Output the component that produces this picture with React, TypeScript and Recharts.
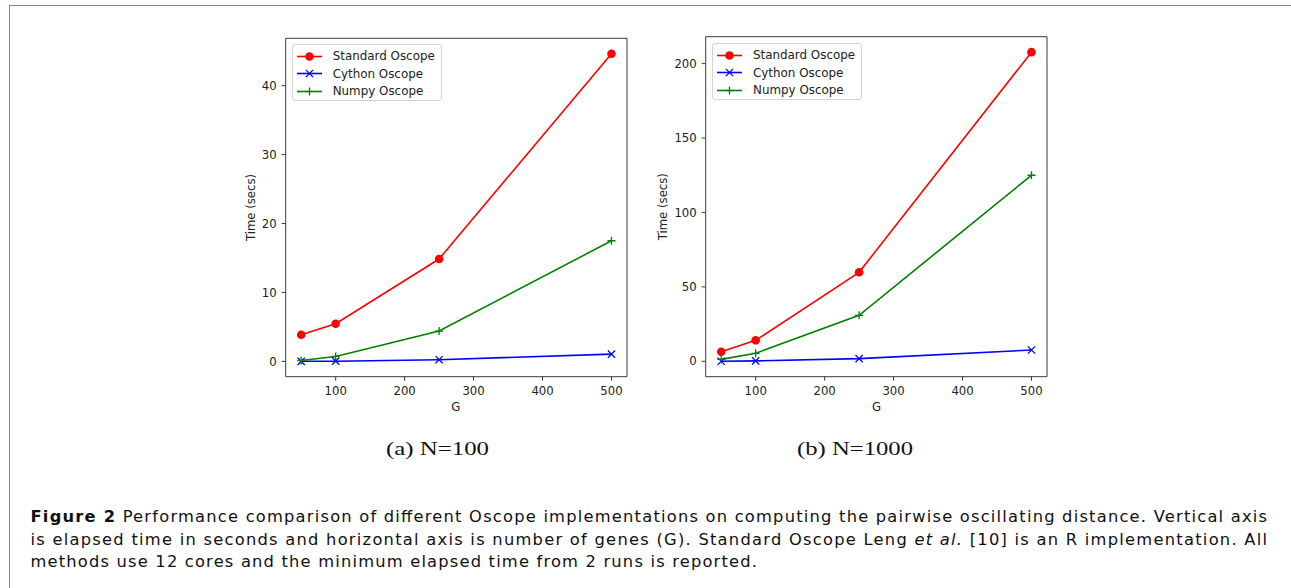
import React from 'react'
import { LineChart, Line, XAxis, YAxis, ReferenceArea } from 'recharts'

// number of genes
const genes = [50, 100, 250, 500]

// N = 100
const standardN100 = [3.86, 5.46, 14.85, 44.64]
const cythonN100 = [0.01, 0.03, 0.24, 1.06]
const numpyN100 = [0.12, 0.72, 4.4, 17.5]

// N = 1000
const standardN1000 = [6.45, 14.1, 59.8, 207.7]
const cythonN1000 = [0.05, 0.3, 1.8, 7.6]
const numpyN1000 = [1.3, 5.4, 30.9, 125.0]

const xTicks = [100, 200, 300, 400, 500]
const yTicksN100 = [0, 10, 20, 30, 40]
const yTicksN1000 = [0, 50, 100, 150, 200]

const seriesNames = ['Standard Oscope', 'Cython Oscope', 'Numpy Oscope']
const seriesColors = ['#ff0000', '#0000ff', '#008000']

const tickFont = { fontFamily: 'DejaVu Sans', fontSize: 11.7, fill: '#222' }
const frameColor = '#3a3a3a'

// matplotlib style 5% padding around the data
const pad = (vals: number[]) => {
  const lo = Math.min(...vals)
  const hi = Math.max(...vals)
  const m = (hi - lo) * 0.05
  return [lo - m, hi + m]
}

const Marker = ({ kind, cx, cy, color }: { kind: number; cx: number; cy: number; color: string }) => {
  if (kind === 0) return <circle cx={cx} cy={cy} r={4.3} fill={color} />
  if (kind === 1) {
    const s = 3.6
    return (
      <g>
        <line x1={cx - s} y1={cy - s} x2={cx + s} y2={cy + s} stroke={color} strokeWidth={1.3} />
        <line x1={cx - s} y1={cy + s} x2={cx + s} y2={cy - s} stroke={color} strokeWidth={1.3} />
      </g>
    )
  }
  const s = 4
  return (
    <g>
      <line x1={cx - s} y1={cy} x2={cx + s} y2={cy} stroke={color} strokeWidth={1.3} />
      <line x1={cx} y1={cy - s} x2={cx} y2={cy + s} stroke={color} strokeWidth={1.3} />
    </g>
  )
}

const dotFor = (kind: number) => (props: any) => (
  <g key={`d-${kind}-${props.index}`}>
    <Marker kind={kind} cx={props.cx} cy={props.cy} color={seriesColors[kind]} />
  </g>
)

interface PlotProps {
  left: number
  top: number
  marginTop: number
  standard: number[]
  cython: number[]
  numpy: number[]
  yTicks: number[]
  legend: { x: number; y: number; w: number; h: number }
}

const TimingPlot: React.FC<PlotProps> = ({ left, top, marginTop, standard, cython, numpy, yTicks, legend }) => {
  const rows = genes.map((g, i) => ({ g, standard: standard[i], cython: cython[i], numpy: numpy[i] }))
  const [x0, x1] = pad(genes)
  const [y0, y1] = pad([...standard, ...cython, ...numpy])
  const keys = ['standard', 'cython', 'numpy']
  return (
    <>
      <div style={{ position: 'absolute', left, top }}>
        <LineChart width={420} height={400} data={rows} margin={{ top: marginTop, right: 13, left: 0, bottom: 13.3 }}>
          <XAxis
            dataKey="g"
            type="number"
            domain={[x0, x1]}
            ticks={xTicks}
            allowDataOverflow
            axisLine={false}
            tickLine={{ stroke: frameColor }}
            tickSize={4}
            tickMargin={5.8}
            height={30}
            tick={tickFont}
          />
          <YAxis
            type="number"
            domain={[y0, y1]}
            ticks={yTicks}
            allowDataOverflow
            axisLine={false}
            tickLine={{ stroke: frameColor }}
            tickSize={4}
            tickMargin={5}
            width={65.7}
            tick={tickFont}
          />
          {keys.map((k, i) => (
            <Line
              key={k}
              dataKey={k}
              stroke={seriesColors[i]}
              strokeWidth={1.6}
              dot={dotFor(i)}
              activeDot={false}
              isAnimationActive={false}
            />
          ))}
          <ReferenceArea x1={x0} x2={x1} y1={y0} y2={y1} fill="none" stroke={frameColor} strokeWidth={1} ifOverflow="visible" />
        </LineChart>
      </div>
      <div
        style={{
          position: 'absolute',
          left: legend.x,
          top: legend.y,
          width: legend.w,
          height: legend.h,
          border: '1px solid #d4d4d4',
          borderRadius: 3,
          background: 'rgba(255,255,255,0.8)',
          boxSizing: 'border-box',
        }}
      >
        {seriesNames.map((name, i) => (
          <div key={name} style={{ position: 'absolute', left: 4, top: 2.5 + i * 17.6, height: 17, display: 'flex', alignItems: 'center' }}>
            <svg width={26} height={17}>
              <line x1={0} y1={8.5} x2={25} y2={8.5} stroke={seriesColors[i]} strokeWidth={1.6} />
              <Marker kind={i} cx={12.5} cy={8.5} color={seriesColors[i]} />
            </svg>
            <span style={{ marginLeft: 10, fontFamily: 'DejaVu Sans', fontSize: 11.9, color: '#222', whiteSpace: 'nowrap' }}>{name}</span>
          </div>
        ))}
      </div>
    </>
  )
}

export default function App() {
  const label = { fontFamily: 'DejaVu Sans', fontSize: 11.7, fill: '#222' }
  const cap = { fontFamily: 'DejaVu Sans', fontSize: 16.3, fill: '#111' }
  return (
    <div style={{ position: 'absolute', left: 0, top: 0, width: 1291, height: 588, background: '#fff', overflow: 'hidden' }}>
      <div
        style={{
          position: 'absolute',
          left: 9,
          top: 5,
          width: 1300,
          height: 600,
          borderTop: '1.5px solid #6f88ab',
          borderLeft: '1.5px solid #6f88ab',
        }}
      />
      <TimingPlot
        left={220}
        top={20}
        marginTop={18.3}
        standard={standardN100}
        cython={cythonN100}
        numpy={numpyN100}
        yTicks={yTicksN100}
        legend={{ x: 291.7, y: 44.3, w: 150, h: 57 }}
      />
      <TimingPlot
        left={640}
        top={20}
        marginTop={16.7}
        standard={standardN1000}
        cython={cythonN1000}
        numpy={numpyN1000}
        yTicks={yTicksN1000}
        legend={{ x: 712, y: 43.3, w: 150, h: 57 }}
      />
      <svg width={1291} height={588} style={{ position: 'absolute', left: 0, top: 0, pointerEvents: 'none' }}>
        <text {...label} x={0} y={0} textAnchor="middle" dominantBaseline="central" transform="translate(250.5 207.5) rotate(-90)">
          Time (secs)
        </text>
        <text {...label} x={0} y={0} textAnchor="middle" dominantBaseline="central" transform="translate(663 206.7) rotate(-90)">
          Time (secs)
        </text>
        <text {...label} x={455.9} y={411} textAnchor="middle">G</text>
        <text {...label} x={876.5} y={411} textAnchor="middle">G</text>

        <text x={386} y={455} fontFamily="Liberation Serif" fontSize={18} fill="#111" textLength={103} lengthAdjust="spacingAndGlyphs">
          (a) N=100
        </text>
        <text x={797} y={455} fontFamily="Liberation Serif" fontSize={18} fill="#111" textLength={116} lengthAdjust="spacingAndGlyphs">
          (b) N=1000
        </text>

        <text {...cap} x={30.5} y={521.5} textLength={1236.5}>
          <tspan fontWeight="bold">Figure 2</tspan> Performance comparison of different Oscope implementations on computing the pairwise oscillating distance. Vertical axis
        </text>
        <text {...cap} x={30.5} y={545} textLength={1236.5}>
          is elapsed time in seconds and horizontal axis is number of genes (G). Standard Oscope Leng <tspan fontStyle="italic">et al.</tspan> [10] is an R implementation. All
        </text>
        <text {...cap} x={30.5} y={567} textLength={726.5}>
          methods use 12 cores and the minimum elapsed time from 2 runs is reported.
        </text>
      </svg>
    </div>
  )
}
